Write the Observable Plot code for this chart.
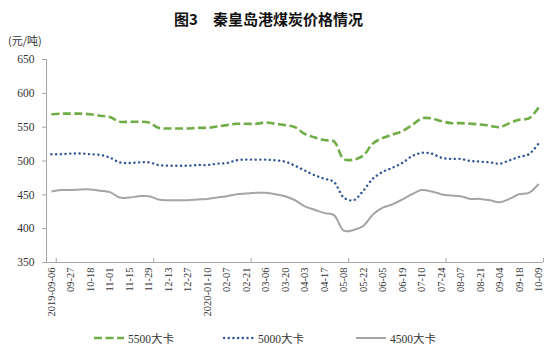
<!DOCTYPE html>
<html><head><meta charset="utf-8">
<script src="https://cdn.jsdelivr.net/npm/d3@7"></script>
<script src="https://cdn.jsdelivr.net/npm/@observablehq/plot@0.6"></script>
<style>
body{margin:0;background:#fff;}
#wrap{position:relative;width:558px;height:356px;overflow:hidden;background:#fff;}
#wrap svg.chart{position:absolute;left:0;top:0;}
#title{position:absolute;left:0;top:8px;width:537px;text-align:center;font:bold 15px "Noto Sans CJK SC",sans-serif;color:#111;white-space:pre;}
#unit{position:absolute;left:8px;top:32px;font:11px "Noto Sans CJK SC",sans-serif;color:#333;}
.leg{position:absolute;top:330px;height:16px;display:flex;align-items:center;font:11.5px "Liberation Serif","Noto Sans CJK SC",serif;color:#333;}
.leg svg{margin-right:3px;}
</style></head>
<body><div id="wrap">
<div id="title">图3　秦皇岛港煤炭价格情况</div>
<div id="unit">(元/吨)</div>
</div>
<script>
// categories (weekly observation dates)
const dates = [
  "2019-09-06","2019-09-20","2019-09-27","2019-10-11","2019-10-18","2019-10-25","2019-11-01","2019-11-08",
  "2019-11-15","2019-11-22","2019-11-29","2019-12-06","2019-12-13","2019-12-20","2019-12-27","2020-01-03",
  "2020-01-10","2020-01-17","2020-02-07","2020-02-14","2020-02-21","2020-02-28","2020-03-06","2020-03-13",
  "2020-03-20","2020-03-27","2020-04-03","2020-04-10","2020-04-17","2020-04-24","2020-05-08","2020-05-15",
  "2020-05-22","2020-05-29","2020-06-05","2020-06-12","2020-06-19","2020-07-03","2020-07-10","2020-07-17",
  "2020-07-24","2020-07-31","2020-08-07","2020-08-14","2020-08-21","2020-08-28","2020-09-04","2020-09-11",
  "2020-09-18","2020-09-25","2020-10-09"
];
// series values (元/吨)
const p5500 = [569,570,570,570,569,567,565,558,558,558,557,549,548,548,548,549,549,551,553,555,555,555,557,555,553,550,540,535,531,529,503,502,508,526,534,539,544,553,563,563,559,556,556,555,554,552,550,556,561,563,579];
const p5000 = [510,510,511,511,510,509,505,498,497,498,498,494,493,493,493,494,494,496,497,501,502,502,502,501,499,493,486,479,474,469,446,442,456,474,484,490,497,507,512,511,505,503,503,500,499,498,496,501,506,510,526];
const p4500 = [455,457,457,458,458,456,454,446,446,448,448,443,442,442,442,443,444,446,448,451,452,453,453,451,448,442,433,428,423,420,397,398,404,421,431,436,443,451,457,455,451,449,448,444,444,442,439,444,451,453,466];
const seriesNames = ["5500大卡","5000大卡","4500大卡"];
const yTicks = [350,400,450,500,550,600,650];

const rows = dates.map((d,i)=>({i, date:d, v5500:p5500[i], v5000:p5000[i], v4500:p4500[i]}));
const labelIdx = dates.map((d,i)=>i).filter(i=>i%2===0);
const labelText = i => (i===0 || dates[i].slice(0,4)!==dates[i-2].slice(0,4)) ? dates[i] : dates[i].slice(5);
const boundaries = dates.map((d,i)=>i).filter(i=>i%10===0).map(i=>i+0.5);

const axisColor = "#a6a6a6";
const styles = [
  {stroke:"#70AD47", strokeWidth:2.6, strokeDasharray:"8,3.5", strokeLinecap:"butt"},
  {stroke:"#2F5597", strokeWidth:2.4, strokeDasharray:"0.1,4.6", strokeLinecap:"round"},
  {stroke:"#A5A5A5", strokeWidth:2, strokeDasharray:null, strokeLinecap:"butt"}
];

const chart = Plot.plot({
  width:558, height:356,
  marginLeft:46, marginRight:15, marginTop:59, marginBottom:94,
  x:{domain:[-0.5,50.5], axis:null},
  y:{domain:[350,650], axis:null},
  style:{fontFamily:'"Liberation Serif", serif', fontSize:"11px", color:"#333", background:"transparent"},
  marks:[
    Plot.ruleY([350], {stroke:axisColor, strokeWidth:1}),
    Plot.ruleX([-0.5], {stroke:axisColor, strokeWidth:1}),
    Plot.ruleX(boundaries, {x:d=>d, y1:350, y2:350, insetTop:-4, stroke:axisColor}),
    Plot.axisY({ticks:yTicks, tickSize:4, tickPadding:8, label:null, stroke:axisColor, fill:"#333", fontSize:11.5}),
    Plot.text(labelIdx, {x:d=>d, frameAnchor:"bottom", text:labelText, rotate:-90, textAnchor:"end", lineAnchor:"middle", dy:5, fontSize:10.5, fill:"#333"}),
    Plot.line(rows, {x:"i", y:"v4500", curve:"catmull-rom", ...styles[2]}),
    Plot.line(rows, {x:"i", y:"v5000", curve:"catmull-rom", ...styles[1]}),
    Plot.line(rows, {x:"i", y:"v5500", curve:"catmull-rom", ...styles[0]})
  ]
});
chart.classList.add("chart");
const wrap = document.getElementById("wrap");
wrap.insertBefore(chart, wrap.firstChild);

// legend
const legLefts = [93, 223, 355];
seriesNames.forEach((name,k)=>{
  const div = document.createElement("div");
  div.className = "leg";
  div.style.left = legLefts[k] + "px";
  const s = styles[k];
  div.innerHTML = `<svg width="32" height="10"><line x1="1" y1="5" x2="31" y2="5" stroke="${s.stroke}" stroke-width="${s.strokeWidth}" ${s.strokeDasharray?`stroke-dasharray="${s.strokeDasharray}"`:""} stroke-linecap="${s.strokeLinecap}"/></svg><span>${name}</span>`;
  wrap.appendChild(div);
});
</script>
</body></html>
